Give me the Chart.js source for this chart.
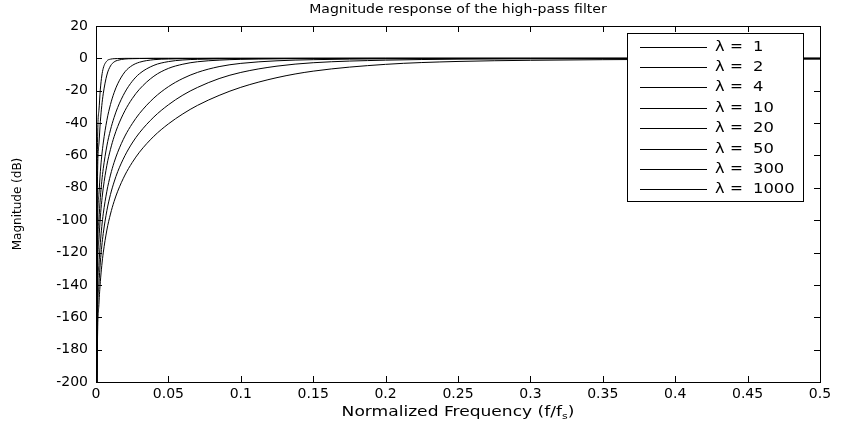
<!DOCTYPE html>
<html>
<head>
<meta charset="utf-8">
<script src="https://cdn.jsdelivr.net/npm/chart.js@4.4.0/dist/chart.umd.min.js"></script>
<style>
  html, body { margin: 0; padding: 0; background: #fff; }
  #wrap { width: 850px; height: 425px; }
</style>
</head>
<body>
<div id="wrap"><canvas id="hpChart" width="850" height="425"></canvas></div>
<script>
// normalized frequency samples (f/fs)
const freqs = [0, 0.001, 0.002, 0.003, 0.004, 0.005, 0.0075, 0.01, 0.0125, 0.015, 0.02, 0.025, 0.03,
               0.04, 0.05, 0.06, 0.07, 0.085, 0.1, 0.125, 0.15, 0.2, 0.25, 0.3, 0.4, 0.5];

const lambdas = [1, 2, 4, 10, 20, 50, 300, 1000];

// magnitude in dB, one array per lambda (f = 0 goes far below the axis)
const mag1    = [-300, -176.1, -152.1, -138.0, -128.0, -120.2, -106.1, -96.2, -88.4, -82.1, -72.1, -64.4, -58.0,
                 -48.1, -40.5, -34.3, -29.1, -22.9, -17.9, -11.9, -7.9, -3.7, -1.9, -1.2, -0.6, -0.5];
const mag2    = [-300, -164.1, -140.0, -125.9, -115.9, -108.2, -94.1, -84.1, -76.4, -70.0, -60.1, -52.3, -46.0,
                 -36.2, -28.7, -22.7, -18.0, -12.5, -8.7, -4.8, -2.7, -1.1, -0.5, -0.3, -0.2, -0.1];
const mag4    = [-300, -152.1, -128.0, -113.9, -103.9, -96.1, -82.1, -72.1, -64.3, -58.0, -48.0, -40.4, -34.1,
                 -24.5, -17.5, -12.4, -8.7, -5.1, -3.1, -1.5, -0.8, -0.3, -0.1, -0.1, 0, 0];
const mag10   = [-300, -136.1, -112.1, -98.0, -88.0, -80.2, -66.1, -56.2, -48.4, -42.1, -32.3, -24.9, -19.1,
                 -11.0, -6.2, -3.6, -2.1, -1.1, -0.6, -0.3, -0.1, 0, 0, 0, 0, 0];
const mag20   = [-300, -124.1, -100.0, -85.9, -75.9, -68.2, -54.1, -44.2, -36.5, -30.3, -20.9, -14.2, -9.5,
                 -4.3, -2.0, -1.0, -0.6, -0.3, -0.2, -0.1, 0, 0, 0, 0, 0, 0];
const mag50   = [-300, -108.2, -84.1, -70.0, -60.0, -52.3, -38.3, -28.5, -21.2, -15.7, -8.3, -4.4, -2.4,
                 -0.8, -0.4, -0.2, -0.1, 0, 0, 0, 0, 0, 0, 0, 0, 0];
const mag300  = [-300, -77.1, -53.0, -39.0, -29.2, -21.9, -10.3, -4.7, -2.2, -1.2, -0.4, -0.2, -0.1,
                 0, 0, 0, 0, 0, 0, 0, 0, 0, 0, 0, 0, 0];
const mag1000 = [-300, -56.2, -32.3, -19.0, -10.9, -6.1, -1.6, -0.5, -0.2, -0.1, 0, 0, 0,
                 0, 0, 0, 0, 0, 0, 0, 0, 0, 0, 0, 0, 0];

const series = [mag1, mag2, mag4, mag10, mag20, mag50, mag300, mag1000];

const yTicks = [-200, -180, -160, -140, -120, -100, -80, -60, -40, -20, 0, 20];
const xTicks = [0, 0.05, 0.1, 0.15, 0.2, 0.25, 0.3, 0.35, 0.4, 0.45, 0.5];

const FONT = '"DejaVu Sans", "Liberation Sans", sans-serif';

// text stretched sideways, the original picture is wider than tall
function wideText(ctx, text, x, y, sx, align) {
    ctx.save();
    ctx.translate(x, y);
    ctx.scale(sx, 1);
    ctx.textAlign = align;
    ctx.fillText(text, 0, 0);
    ctx.restore();
}

// matlab-ish frame: box, inward ticks, titles, boxed legend
const matlabAxes = {
    id: 'matlabAxes',
    afterDraw(chart) {
        const { ctx, chartArea: a, scales } = chart;
        const tl = 6;
        ctx.save();
        ctx.strokeStyle = '#000';
        ctx.lineWidth = 1;
        ctx.strokeRect(Math.round(a.left) + 0.5, Math.round(a.top) + 0.5,
                       Math.round(a.right - a.left), Math.round(a.bottom - a.top));
        ctx.beginPath();
        xTicks.forEach(v => {
            const px = Math.round(scales.x.getPixelForValue(v)) + 0.5;
            ctx.moveTo(px, a.bottom); ctx.lineTo(px, a.bottom - tl);
            ctx.moveTo(px, a.top); ctx.lineTo(px, a.top + tl);
        });
        yTicks.forEach(v => {
            const py = Math.round(scales.y.getPixelForValue(v)) + 0.5;
            ctx.moveTo(a.left, py); ctx.lineTo(a.left + tl, py);
            ctx.moveTo(a.right, py); ctx.lineTo(a.right - tl, py);
        });
        ctx.stroke();

        const cx = (a.left + a.right) / 2;
        ctx.fillStyle = '#000';
        ctx.textBaseline = 'middle';

        // title
        ctx.font = '13px ' + FONT;
        wideText(ctx, 'Magnitude response of the high-pass filter', cx, 10, 1.08, 'center');

        // x label with subscript s
        const sx = 1.22;
        const main = 'Normalized Frequency (f/f';
        ctx.font = '14px ' + FONT;
        const w1 = ctx.measureText(main).width * sx;
        const w3 = ctx.measureText(')').width * sx;
        ctx.font = '9px ' + FONT;
        const w2 = ctx.measureText('s').width * sx;
        const x0 = cx - (w1 + w2 + w3) / 2;
        const yl = 412;
        ctx.font = '14px ' + FONT;
        wideText(ctx, main, x0, yl, sx, 'left');
        wideText(ctx, ')', x0 + w1 + w2, yl, sx, 'left');
        ctx.font = '9px ' + FONT;
        wideText(ctx, 's', x0 + w1, yl + 5, sx, 'left');

        // y label
        ctx.save();
        ctx.translate(18, (a.top + a.bottom) / 2);
        ctx.rotate(-Math.PI / 2);
        ctx.textAlign = 'center';
        ctx.font = '12px ' + FONT;
        ctx.fillText('Magnitude (dB)', 0, 0);
        ctx.restore();

        // legend box
        const lx = 627, ly = 33, lw = 176, lh = 168, row = 20.4;
        ctx.fillStyle = '#fff';
        ctx.fillRect(lx, ly, lw, lh);
        ctx.strokeRect(lx + 0.5, ly + 0.5, lw, lh);
        ctx.font = '14px ' + FONT;
        chart.data.datasets.forEach((ds, i) => {
            const yy = Math.round(ly + 13.5 + i * row) + 0.5;
            ctx.strokeStyle = ds.borderColor;
            ctx.lineWidth = ds.borderWidth;
            ctx.beginPath();
            ctx.moveTo(640, yy); ctx.lineTo(707, yy);
            ctx.stroke();
            ctx.fillStyle = '#000';
            const parts = ds.label.split(' = ');
            wideText(ctx, parts[0], 715, yy, 1.15, 'left');
            wideText(ctx, '=', 730, yy, 1.1, 'left');
            wideText(ctx, parts[1], 753, yy, 1.17, 'left');
        });
        ctx.restore();
    }
};

const chart = new Chart(document.getElementById('hpChart'), {
    type: 'line',
    data: {
        datasets: series.map((mag, i) => ({
            label: 'λ = ' + lambdas[i],
            data: freqs.map((f, j) => ({ x: f, y: mag[j] })),
            borderColor: '#000',
            borderWidth: 1,
            pointRadius: 0,
            fill: false,
            cubicInterpolationMode: 'monotone'
        }))
    },
    options: {
        responsive: false,
        animation: false,
        layout: { padding: { top: 26, right: 30, left: 0, bottom: 0 } },
        scales: {
            x: {
                type: 'linear',
                min: 0,
                max: 0.5,
                afterFit: s => { s.height = 43; },
                afterBuildTicks: s => { s.ticks = xTicks.map(v => ({ value: v })); },
                grid: { display: false, tickLength: 0 },
                border: { display: false },
                ticks: {
                    color: '#000', padding: 4, maxRotation: 0,
                    font: { family: FONT, size: 14 },
                    callback: v => String(+v.toFixed(2))
                }
            },
            y: {
                min: -200,
                max: 20,
                afterFit: s => { s.width = 96; },
                afterBuildTicks: s => { s.ticks = yTicks.map(v => ({ value: v })); },
                grid: { display: false, tickLength: 0 },
                border: { display: false },
                ticks: { color: '#000', padding: 8, font: { family: FONT, size: 14 } }
            }
        },
        plugins: {
            legend: { display: false },
            tooltip: { enabled: false }
        }
    },
    plugins: [matlabAxes]
});
</script>
</body>
</html>
